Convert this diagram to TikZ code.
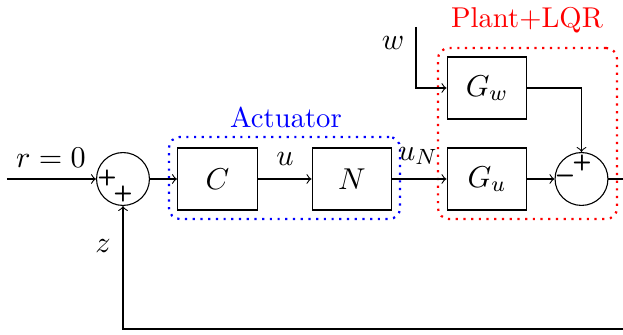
\documentclass[tikz,border=0pt]{standalone}
\usepackage{fontspec}
\begin{document}
\begin{tikzpicture}[x=0.363pt,y=-0.363pt,
  blk/.style={draw,minimum width=29pt,minimum height=22.5pt,inner sep=0pt,font=\fontsize{10.95}{13}\selectfont},
  sumc/.style={draw,circle,minimum size=19.2pt,inner sep=0pt},
  sgn/.style={font=\footnotesize\sffamily\bfseries,inner sep=0pt},
  mlbl/.style={font=\fontsize{10.95}{13}\selectfont},
  tlbl/.style={font=\fontsize{10.4}{12}\selectfont},
  grp/.style={draw,dotted,thick,rounded corners=4pt,inner sep=0pt}]
\useasboundingbox (0,0) rectangle (623,335);
% group boxes
\node[grp,blue,minimum width=83.9pt,minimum height=29.8pt] (act) at (284.5,178) {};
\node[tlbl,blue] (actlbl) at (286,117) {Actuator};
\node[grp,red,minimum width=65pt,minimum height=62.1pt] (plant) at (527.5,133.5) {};
\node[tlbl,red] (plantlbl) at (527,20) {Plant+LQR};
% blocks
\node[sumc] (s1) at (123,179) {};
\node[blk] (C) at (217.5,179) {$C$};
\node[blk] (N) at (352,179) {$N$};
\node[blk] (Gu) at (487,179) {$G_u$};
\node[blk] (Gw) at (487,88) {$G_w$};
\node[sumc] (s2) at (581.5,179) {};
% signs
\node[sgn] (p1) at (107,178) {+};
\node[sgn] (p2) at (123,194) {+};
\node[sgn] (p3) at (582,163) {+};
\node[sgn] (m1) at (565,178) {\textminus};
% free ends
\coordinate (in) at (7,179);
\coordinate (wtop) at (416,27);
\coordinate (out) at (623,179);
\coordinate (fb) at (623,329);
% connectors
\draw[->] (in) -- (s1.west);
\draw[->] (s1.east) -- (C.west);
\draw[->] (C.east) -- (N.west);
\draw[->] (N.east) -- (Gu.west);
\draw[->] (Gu.east) -- (s2.west);
\draw[->] (wtop) |- (Gw.west);
\draw[->] (Gw.east) -| (s2.north);
\draw (s2.east) -- (out);
\draw[->] (fb) -| (s1.south);
% labels
\node[mlbl] (rl) at (51,158) {$r=0$};
\node[mlbl] (ul) at (285,159) {$u$};
\node[mlbl] (unl) at (418,156) {$u_N$};
\node[mlbl] (wl) at (393,43) {$w$};
\node[mlbl] (zl) at (103,246) {$z$};
\end{tikzpicture}
\end{document}
